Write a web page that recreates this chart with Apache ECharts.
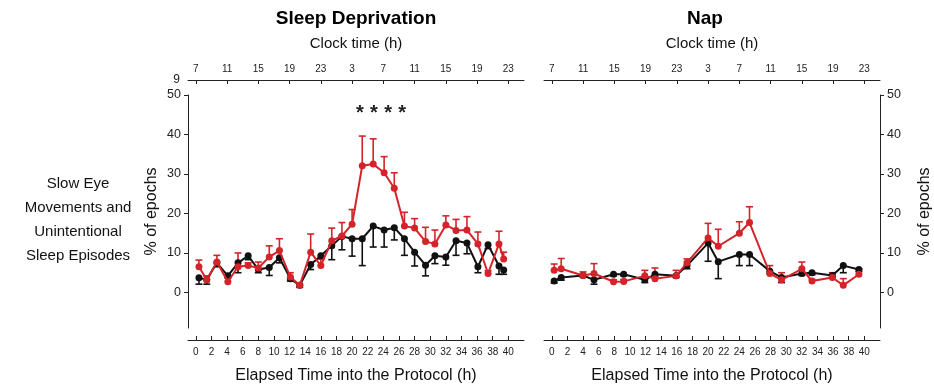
<!DOCTYPE html>
<html>
<head>
<meta charset="utf-8">
<script src="https://cdn.jsdelivr.net/npm/echarts@6/dist/echarts.min.js"></script>
<style>
html,body{margin:0;padding:0;background:#fff;}
#chart{width:934px;height:389px;}
</style>
</head>
<body>
<div id="chart"></div>
<script>
// ---- Data ----
var elapsedTicks = [0,2,4,6,8,10,12,14,16,18,20,22,24,26,28,30,32,34,36,38,40];
var clockTicks = [0,4,8,12,16,20,24,28,32,36,40];
var clockLabels = ['7','11','15','19','23','3','7','11','15','19','23'];
var yTicks = [0,10,20,30,40,50];

// Sleep deprivation protocol
var sdX      = [0.4,1.4,2.7,4.1,5.4,6.7,8.0,9.4,10.7,12.1,13.3,14.7,16.0,17.4,18.7,20.0,21.3,22.7,24.1,25.4,26.7,28.0,29.4,30.6,32.0,33.3,34.7,36.1,37.4,38.8,39.4];
var sdRed    = [6.5,3.2,7.7,2.7,6.5,6.8,6.2,9.0,10.6,3.9,1.8,10.2,6.8,13.1,14.3,17.3,32.1,32.5,30.3,26.4,16.8,16.3,12.9,12.3,17.1,15.7,15.8,12.3,4.8,12.3,8.5];
var sdRedErr = [1.7,1.0,1.7,1.1,3.5,0.7,1.5,2.8,3.0,1.1,0.4,4.6,1.7,3.2,3.4,3.7,7.5,6.4,4.1,3.9,3.5,2.4,3.6,3.5,2.3,2.8,3.4,3.0,0.7,3.2,1.7];
var sdBlack    = [3.7,3.2,7.5,4.2,7.5,9.3,5.8,6.3,8.8,3.5,1.8,7.1,9.3,11.8,14.2,13.6,13.6,16.8,15.8,16.4,13.6,10.2,6.9,9.3,9.0,13.1,12.5,6.5,12.1,6.7,5.7];
var sdBlackErr = [1.6,1.1,1.0,0.5,2.5,1.0,0.8,2.0,1.3,0.6,0.5,1.3,0.8,3.5,3.4,4.4,6.8,5.3,4.3,3.1,4.2,3.5,2.7,2.0,2.1,3.7,2.7,1.5,1.0,2.1,1.1];
var starX = [21.0,22.8,24.6,26.4];
var starY = [46.4,46.4,46.4,46.4];

// Nap protocol
var napX      = [0.3,1.2,4.0,5.4,7.9,9.2,11.9,13.2,15.9,17.3,20.0,21.3,24.0,25.3,27.9,29.4,32.0,33.3,35.9,37.3,39.3];
var napRed    = [5.6,6.0,4.3,4.8,2.7,2.8,4.2,3.5,4.2,7.5,13.8,11.7,15.0,17.7,4.8,3.2,6.0,2.9,3.8,1.8,4.6];
var napRedErr = [1.6,2.6,0.9,2.5,0.5,0.5,1.4,2.7,1.4,1.0,3.7,4.3,2.9,4.0,2.0,1.8,1.7,0.4,1.2,1.7,1.4];
var napBlack    = [2.9,3.8,4.3,3.2,4.6,4.6,3.2,4.6,4.2,6.8,12.5,7.8,9.6,9.6,5.4,3.8,4.8,5.0,4.3,6.8,5.8];
var napBlackErr = [0.5,0.7,0.4,1.1,0.4,0.4,0.7,0.6,0.4,0.8,4.6,4.3,2.8,2.8,0.6,1.3,0.5,0.5,0.4,1.8,0.5];

// ---- Styles ----
var RED = '#d5232a', BLACK = '#111111', AX = '#222222';
var FONT = 'Liberation Sans, Arial, sans-serif';

function pairs(xs, ys){ return xs.map(function(x,i){ return [x, ys[i]]; }); }
function errData(xs, ys, es, dir){ return xs.map(function(x,i){ return [x, ys[i], ys[i] + dir*es[i]]; }); }

function errSeries(data, color, xi, yi){
  return {
    type:'custom', xAxisIndex:xi, yAxisIndex:yi, z:2, silent:true,
    renderItem:function(params, api){
      var p0 = api.coord([api.value(0), api.value(1)]);
      var p1 = api.coord([api.value(0), api.value(2)]);
      var hw = 3.5;
      return {type:'group', children:[
        {type:'line', shape:{x1:p0[0],y1:p0[1],x2:p1[0],y2:p1[1]}, style:{stroke:color,lineWidth:1.6}},
        {type:'line', shape:{x1:p1[0]-hw,y1:p1[1],x2:p1[0]+hw,y2:p1[1]}, style:{stroke:color,lineWidth:1.6}}
      ]};
    },
    encode:{x:0, y:[1,2]},
    data:data
  };
}
function lineSeries(data, color, xi, yi, z){
  return {type:'line', xAxisIndex:xi, yAxisIndex:yi, data:data, z:z,
    symbol:'circle', symbolSize:7, showSymbol:true,
    lineStyle:{color:color,width:2}, itemStyle:{color:color}, silent:true, animation:false};
}

function bottomAxis(gi){
  return {type:'value', gridIndex:gi, position:'bottom', offset:12, min:-1, max:42,
    axisLine:{show:true, onZero:false, lineStyle:{color:AX,width:1}},
    axisTick:{show:true, inside:true, length:4, customValues:elapsedTicks, lineStyle:{color:AX}},
    axisLabel:{customValues:elapsedTicks, fontSize:10, color:'#222', margin:7, fontFamily:FONT},
    splitLine:{show:false},
    name:'Elapsed Time into the Protocol (h)', nameLocation:'middle', nameGap:28,
    nameTextStyle:{fontSize:16, color:'#111', fontFamily:FONT}};
}
function topAxis(gi){
  return {type:'value', gridIndex:gi, position:'top', offset:15, min:-1, max:42,
    axisLine:{show:true, onZero:false, lineStyle:{color:AX,width:1}},
    axisTick:{show:true, inside:true, length:4, customValues:clockTicks, lineStyle:{color:AX}},
    axisLabel:{customValues:clockTicks, fontSize:10, color:'#222', margin:6, fontFamily:FONT,
      formatter:function(v){ return clockLabels[Math.round(v/4)]; }},
    splitLine:{show:false},
    name:'Clock time (h)', nameLocation:'middle', nameGap:29,
    nameTextStyle:{fontSize:15, color:'#111', fontFamily:FONT}};
}
function yAxis(gi, pos, gap){
  return {type:'value', gridIndex:gi, position:pos, min:-9, max:50,
    axisLine:{show:true, onZero:false, lineStyle:{color:AX,width:1}},
    axisTick:{show:true, length:4, customValues:yTicks, lineStyle:{color:AX}},
    axisLabel:{customValues:yTicks, fontSize:12.5, color:'#222', margin:7, fontFamily:FONT},
    splitLine:{show:false},
    name:'% of epochs', nameLocation:'middle', nameGap:gap, nameRotate:90,
    nameTextStyle:{fontSize:16, color:'#111', fontFamily:FONT}};
}

var chart = echarts.init(document.getElementById('chart'), null, {renderer:'canvas'});
var option = {
  animation:false,
  backgroundColor:'#fff',
  textStyle:{fontFamily:FONT},
  grid:[
    {left:188, top:95, width:336, height:236},
    {left:544, top:95, width:336, height:236}
  ],
  xAxis:[bottomAxis(0), topAxis(0), bottomAxis(1), topAxis(1)],
  yAxis:[yAxis(0,'left',28), yAxis(1,'right',37)],
  graphic:[
    {type:'text', style:{text:'Sleep Deprivation', x:356, y:19, textAlign:'center', textVerticalAlign:'middle', font:'bold 19px '+FONT, fill:'#000'}},
    {type:'text', style:{text:'Nap', x:705, y:19, textAlign:'center', textVerticalAlign:'middle', font:'bold 19px '+FONT, fill:'#000'}},
    {type:'text', style:{text:'Slow Eye\nMovements and\nUnintentional\nSleep Episodes', x:78, y:220, textAlign:'center', textVerticalAlign:'middle', font:'15px '+FONT, lineHeight:24, fill:'#111'}},
    {type:'text', style:{text:'9', x:180, y:80, textAlign:'right', textVerticalAlign:'middle', font:'12px '+FONT, fill:'#222'}}
  ],
  series:[
    errSeries(errData(sdX, sdBlack, sdBlackErr, -1), BLACK, 0, 0),
    errSeries(errData(sdX, sdRed, sdRedErr, 1), RED, 0, 0),
    lineSeries(pairs(sdX, sdBlack), BLACK, 0, 0, 3),
    lineSeries(pairs(sdX, sdRed), RED, 0, 0, 4),
    {type:'custom', xAxisIndex:0, yAxisIndex:0, silent:true, z:5,
      data:pairs(starX, starY), encode:{x:0, y:1},
      renderItem:function(params, api){
        var p = api.coord([api.value(0), api.value(1)]);
        return {type:'text', x:p[0], y:p[1]+4, style:{text:'*', textAlign:'center', textVerticalAlign:'middle', font:'bold 20px '+FONT, fill:'#222'}};
      }},
    errSeries(errData(napX, napBlack, napBlackErr, -1), BLACK, 2, 1),
    errSeries(errData(napX, napRed, napRedErr, 1), RED, 2, 1),
    lineSeries(pairs(napX, napBlack), BLACK, 2, 1, 3),
    lineSeries(pairs(napX, napRed), RED, 2, 1, 4)
  ]
};
chart.setOption(option);
</script>
</body>
</html>
